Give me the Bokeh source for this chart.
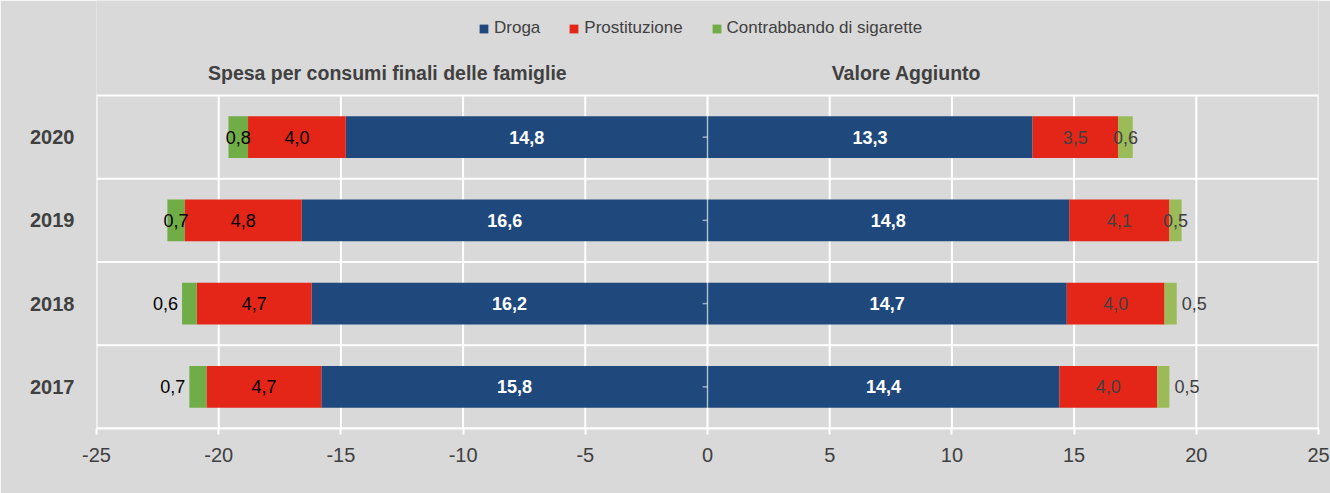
from bokeh.plotting import figure
from bokeh.models import ColumnDataSource, FixedTicker, Legend, LegendItem, Range1d
from bokeh.core.properties import value
from bokeh.embed import file_html
from bokeh.resources import INLINE

# ---------------- data ----------------
years = ["2017", "2018", "2019", "2020"]
series_names = ["Droga", "Prostituzione", "Contrabbando di sigarette"]
panel_titles = ["Spesa per consumi finali delle famiglie", "Valore Aggiunto"]

spesa_droga = [15.8, 16.2, 16.6, 14.8]
spesa_prost = [4.7, 4.7, 4.8, 4.0]
spesa_contr = [0.7, 0.6, 0.7, 0.8]

va_droga = [14.4, 14.7, 14.8, 13.3]
va_prost = [4.0, 4.0, 4.1, 3.5]
va_contr = [0.5, 0.5, 0.5, 0.6]

x_ticks = [-25, -20, -15, -10, -5, 0, 5, 10, 15, 20, 25]
x_tick_labels = ["-25", "-20", "-15", "-10", "-5", "0", "5", "10", "15", "20", "25"]

# ---------------- style / layout ----------------
FONT = "Liberation Sans"
BG = "#d9d9d9"
TXT = "#404040"
BLUE = "#1f497d"
RED = "#e42619"
GREEN_L = "#70ad47"
GREEN_R = "#9bbb59"
outside_label_years = ["2017", "2018"]

W, H_FIG = 1330, 493
ML, MR, MB = 96, 12, 65
PLOT_TOP_PX = 95                      # top of the bar area (from the canvas top)
FRAME_BOTTOM_PX = H_FIG - MB          # 428
N = len(years)
PX_PER_Y = (FRAME_BOTTOM_PX - PLOT_TOP_PX) / N
Y_MAX = FRAME_BOTTOM_PX / PX_PER_Y    # frame reaches the canvas top
XMIN, XMAX = x_ticks[0], x_ticks[-1]


def fmt(v):
    return f"{v:.1f}".replace(".", ",")


ypos = [i + 0.5 for i in range(N)]

p = figure(width=W, height=H_FIG, x_range=Range1d(XMIN, XMAX), y_range=Range1d(0, Y_MAX),
           output_backend="svg", toolbar_location=None,
           min_border_left=ML, min_border_right=MR, min_border_top=0, min_border_bottom=MB)
p.background_fill_color = BG
p.border_fill_color = BG
p.outline_line_color = None
p.xgrid.visible = False
p.ygrid.visible = False

# grid drawn only over the bar area
gv = ColumnDataSource(dict(x=x_ticks, y0=[0] * len(x_ticks), y1=[N] * len(x_ticks)))
p.segment(x0="x", x1="x", y0="y0", y1="y1", source=gv, line_color="white", line_width=2)
hb = list(range(N + 1))
gh = ColumnDataSource(dict(y=hb, x0=[XMIN] * len(hb), x1=[XMAX] * len(hb)))
p.segment(x0="x0", x1="x1", y0="y", y1="y", source=gh, line_color="white", line_width=2)

# axes
p.xaxis.ticker = FixedTicker(ticks=x_ticks)
p.xaxis.major_label_overrides = {t: s for t, s in zip(x_ticks, x_tick_labels)}
p.xaxis.axis_line_color = "white"
p.xaxis.axis_line_width = 2
p.xaxis.major_tick_line_color = "white"
p.xaxis.major_tick_line_width = 2
p.xaxis.major_tick_in = 0
p.xaxis.major_tick_out = 6
p.xaxis.minor_tick_line_color = None
p.xaxis.major_label_standoff = 13
p.xaxis.major_label_text_font = FONT
p.xaxis.major_label_text_font_size = "20px"
p.xaxis.major_label_text_color = TXT

p.yaxis.ticker = FixedTicker(ticks=ypos)
p.yaxis.major_label_overrides = {y: s for y, s in zip(ypos, years)}
p.yaxis.axis_line_color = None
p.yaxis.major_tick_line_color = None
p.yaxis.minor_tick_line_color = None
p.yaxis.major_tick_out = 0
p.yaxis.major_tick_in = 0
p.yaxis.major_label_standoff = 22
p.yaxis.major_label_text_font = FONT
p.yaxis.major_label_text_font_style = "bold"
p.yaxis.major_label_text_font_size = "20px"
p.yaxis.major_label_text_color = TXT

BAR_H = 0.5


def stack(vals_list, sign):
    out = []
    base = [0.0] * N
    for vals in vals_list:
        left = [sign * b for b in base]
        right = [sign * (b + v) for b, v in zip(base, vals)]
        out.append((left, right))
        base = [b + v for b, v in zip(base, vals)]
    return out


renderers_left = []
for side, (vals_list, sign, green) in enumerate([
        ([spesa_droga, spesa_prost, spesa_contr], -1, GREEN_L),
        ([va_droga, va_prost, va_contr], 1, GREEN_R)]):
    colors = [BLUE, RED, green]
    segs = stack(vals_list, sign)
    for k, ((left, right), vals) in enumerate(zip(segs, vals_list)):
        xs, aligns, offs = [], [], []
        for y, l, r in zip(years, left, right):
            if k == 2 and y in outside_label_years:
                xs.append(r)
                aligns.append("right" if sign < 0 else "left")
                offs.append(-4 if sign < 0 else 5)
            else:
                xs.append((l + r) / 2)
                aligns.append("center")
                offs.append(0)
        src = ColumnDataSource(dict(y=ypos, left=left, right=right,
                                    label=[fmt(v) for v in vals], xc=xs, al=aligns, off=offs))
        r_ = p.hbar(y="y", left="left", right="right", height=BAR_H, source=src,
                    fill_color=colors[k], line_color=None)
        if side == 0:
            renderers_left.append(r_)
        if k == 0:
            tcol, tstyle = "white", "bold"
        else:
            tcol, tstyle = ("black" if side == 0 else TXT), "normal"
        p.text(x="xc", y="y", text="label", source=src, text_align="al", x_offset="off",
               text_baseline="middle", text_font=value(FONT), text_font_size=value("18px"),
               text_color=tcol, text_font_style=tstyle)

# zero line over the bars, with small ticks at the category centres
zl = ColumnDataSource(dict(x=[0], y0=[0], y1=[N]))
p.segment(x0="x", x1="x", y0="y0", y1="y1", source=zl, line_color="white",
          line_alpha=0.55, line_width=1.5, level="overlay")
zsrc = ColumnDataSource(dict(y=ypos, x0=[-0.2] * N, x1=[0] * N))
p.segment(x0="x0", x1="x1", y0="y", y1="y", source=zsrc, line_color="white",
          line_alpha=0.55, line_width=1.5, level="overlay")

# panel titles
TITLE_MID_PX = 72
ty = (FRAME_BOTTOM_PX - TITLE_MID_PX) / PX_PER_Y
tsrc = ColumnDataSource(dict(x=[-13.1, 8.14], y=[ty, ty], t=panel_titles))
p.text(x="x", y="y", text="t", source=tsrc, text_align="center", text_baseline="middle",
       text_font=value(FONT), text_font_size=value("19.5px"), text_font_style="bold",
       text_color=TXT)

# series legend at the top
LEG_TOP_PX, LEG_H = 18, 20
lg = Legend(items=[LegendItem(label=n, renderers=[r_]) for n, r_ in zip(series_names, renderers_left)],
            location=(478 - ML, FRAME_BOTTOM_PX - LEG_TOP_PX - LEG_H), orientation="horizontal",
            glyph_width=11, glyph_height=11, label_standoff=5, spacing=28, padding=0, margin=0,
            border_line_color=None, background_fill_alpha=0,
            label_text_font=FONT, label_text_font_size="17px", label_text_color=TXT,
            label_height=LEG_H)
p.add_layout(lg, "center")

open("out.html", "w").write(file_html(p, INLINE))
